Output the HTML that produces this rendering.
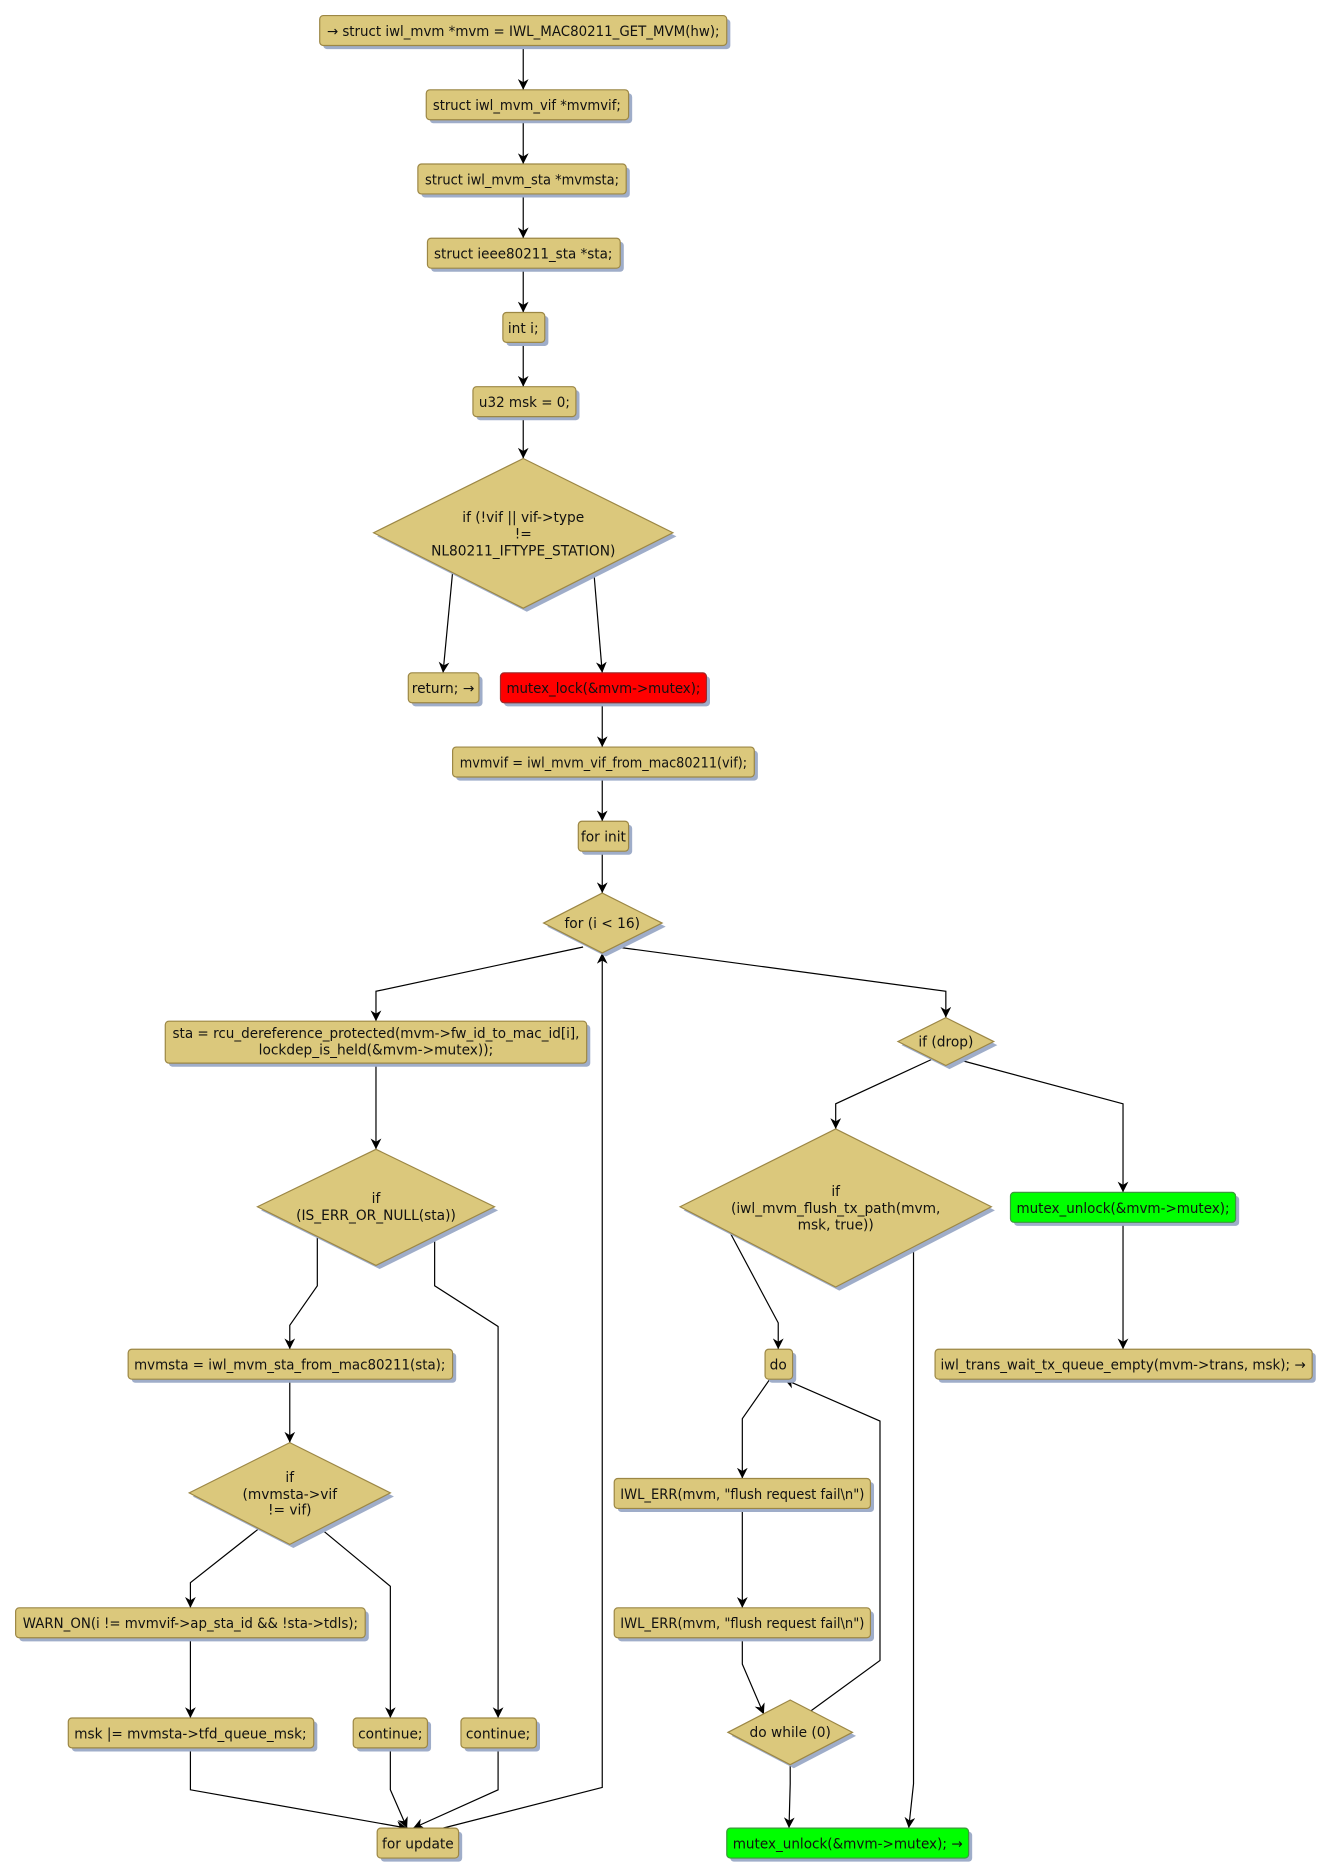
<!DOCTYPE html>
<html><head><meta charset="utf-8"><style>
html,body{margin:0;padding:0;background:#fff;}
svg{display:block;}
text{font-family:"DejaVu Sans","Liberation Sans",sans-serif;font-size:11.5px;fill:#111;}
.b{fill:#dbc87c;stroke:#9c8745;stroke-width:1;}
.s{fill:#9fadc9;}
.e{fill:none;stroke:#000;stroke-width:1;}
</style></head><body>
<svg width="1329" height="1876" viewBox="0 0 1110 1567" xmlns="http://www.w3.org/2000/svg">
<defs><marker id="a" viewBox="0 0 10 10" refX="10" refY="5" markerWidth="9" markerHeight="9" orient="auto" markerUnits="userSpaceOnUse"><path d="M0,0 L10,5 L0,10 L3,5 z" fill="#000"/></marker></defs>

<!-- edges -->
<g class="e" marker-end="url(#a)">
<path class="e" d="M437,38 V75"/>
<path class="e" d="M437,100 V137"/>
<path class="e" d="M437,162 V199"/>
<path class="e" d="M437,224 V261"/>
<path class="e" d="M437,286 V323"/>
<path class="e" d="M437,348 V383"/>
<path class="e" d="M378,478 L370,562"/>
<path class="e" d="M496,478 L503,562"/>
<path class="e" d="M503,587 V624"/>
<path class="e" d="M503,649 V686"/>
<path class="e" d="M503,711 V746"/>
<path class="e" d="M487,791 L314,828 V853"/>
<path class="e" d="M515,791 L790,828 V850"/>
<path class="e" d="M314,888 V960"/>
<path class="e" d="M265,1032 V1074 L242,1107 V1127"/>
<path class="e" d="M363,1032 V1074 L416,1108 V1435"/>
<path class="e" d="M242,1152 V1205"/>
<path class="e" d="M216,1277 L159,1322 V1343"/>
<path class="e" d="M268,1277 L326,1325 V1435"/>
<path class="e" d="M159,1368 V1435"/>
<path class="e" d="M159,1460 V1495 L340,1527"/>
<path class="e" d="M326,1460 V1495 L340,1527"/>
<path class="e" d="M416,1460 V1495 L345,1527"/>
<path class="e" d="M370,1527 L503,1493 V796"/>
<path class="e" d="M778,885 L698,922 V943"/>
<path class="e" d="M800,885 L938,922 V996"/>
<path class="e" d="M610,1030 L650,1105 V1127"/>
<path class="e" d="M763,1040 V1490 L759,1527"/>
<path class="e" d="M938,1021 V1127"/>
<path class="e" d="M643,1152 L620,1185 V1235"/>
<path class="e" d="M620,1260 V1343"/>
<path class="e" d="M620,1368 V1390 L638,1432"/>
<path class="e" d="M676,1430 L735,1387 V1187 L655,1152"/>
<path class="e" d="M660,1474 V1490 L659,1527"/>
</g>

<!-- shadows -->
<g class="s">
<rect x="270" y="16" width="340" height="25" rx="3"/>
<rect x="359" y="78" width="169" height="25" rx="3"/>
<rect x="352" y="140" width="174" height="25" rx="3"/>
<rect x="360" y="202" width="161" height="25" rx="3"/>
<rect x="423" y="264" width="35" height="25" rx="3"/>
<rect x="398" y="326" width="86" height="25" rx="3"/>
<polygon points="315,448 440,386 565,448 440,511"/>
<rect x="344" y="565" width="59" height="25" rx="3"/>
<rect x="421" y="565" width="172" height="25" rx="3"/>
<rect x="381" y="627" width="252" height="25" rx="3"/>
<rect x="486" y="689" width="42" height="25" rx="3"/>
<polygon points="457,774 506,749 556,774 506,799"/>
<rect x="141" y="856" width="352" height="35" rx="3"/>
<polygon points="218,1011 317,963 416,1011 317,1060"/>
<rect x="110" y="1130" width="271" height="25" rx="3"/>
<polygon points="161,1250 245,1208 329,1250 245,1293"/>
<rect x="16" y="1346" width="292" height="25" rx="3"/>
<rect x="60" y="1438" width="205" height="25" rx="3"/>
<rect x="298" y="1438" width="62" height="25" rx="3"/>
<rect x="388" y="1438" width="63" height="25" rx="3"/>
<rect x="318" y="1530" width="68" height="25" rx="3"/>
<polygon points="753,873 793,853 833,873 793,893"/>
<polygon points="571,1011 701,946 831,1011 701,1078"/>
<rect x="847" y="999" width="188" height="25" rx="3"/>
<rect x="642" y="1130" width="23" height="25" rx="3"/>
<rect x="784" y="1130" width="315" height="25" rx="3"/>
<rect x="516" y="1238" width="214" height="25" rx="3"/>
<rect x="516" y="1346" width="214" height="25" rx="3"/>
<polygon points="611,1450 663,1423 715,1450 663,1477"/>
<rect x="610" y="1530" width="202" height="25" rx="3"/>
</g>

<!-- nodes -->
<rect class="b" x="267" y="13" width="340" height="25" rx="3"/>
<rect class="b" x="356" y="75" width="169" height="25" rx="3"/>
<rect class="b" x="349" y="137" width="174" height="25" rx="3"/>
<rect class="b" x="357" y="199" width="161" height="25" rx="3"/>
<rect class="b" x="420" y="261" width="35" height="25" rx="3"/>
<rect class="b" x="395" y="323" width="86" height="25" rx="3"/>
<polygon class="b" points="312,445 437,383 562,445 437,508"/>
<rect class="b" x="341" y="562" width="59" height="25" rx="3"/>
<rect x="418" y="562" width="172" height="25" rx="3" fill="#ff0000" stroke="#9c2a2a"/>
<rect class="b" x="378" y="624" width="252" height="25" rx="3"/>
<rect class="b" x="483" y="686" width="42" height="25" rx="3"/>
<polygon class="b" points="454,771 503,746 553,771 503,796"/>
<rect class="b" x="138" y="853" width="352" height="35" rx="3"/>
<polygon class="b" points="215,1008 314,960 413,1008 314,1057"/>
<rect class="b" x="107" y="1127" width="271" height="25" rx="3"/>
<polygon class="b" points="158,1247 242,1205 326,1247 242,1290"/>
<rect class="b" x="13" y="1343" width="292" height="25" rx="3"/>
<rect class="b" x="57" y="1435" width="205" height="25" rx="3"/>
<rect class="b" x="295" y="1435" width="62" height="25" rx="3"/>
<rect class="b" x="385" y="1435" width="63" height="25" rx="3"/>
<rect class="b" x="315" y="1527" width="68" height="25" rx="3"/>
<polygon class="b" points="750,870 790,850 830,870 790,890"/>
<polygon class="b" points="568,1008 698,943 828,1008 698,1075"/>
<rect x="844" y="996" width="188" height="25" rx="3" fill="#00ff00" stroke="#3a9a3a"/>
<rect class="b" x="639" y="1127" width="23" height="25" rx="3"/>
<rect class="b" x="781" y="1127" width="315" height="25" rx="3"/>
<rect class="b" x="513" y="1235" width="214" height="25" rx="3"/>
<rect class="b" x="513" y="1343" width="214" height="25" rx="3"/>
<polygon class="b" points="608,1447 660,1420 712,1447 660,1474"/>
<rect x="607" y="1527" width="202" height="25" rx="3" fill="#00ff00" stroke="#3a9a3a"/>

<!-- labels -->
<g text-anchor="middle">
<text x="437" y="30" textLength="328" lengthAdjust="spacingAndGlyphs">→ struct iwl_mvm *mvm = IWL_MAC80211_GET_MVM(hw);</text>
<text x="440" y="92" textLength="157" lengthAdjust="spacingAndGlyphs">struct iwl_mvm_vif *mvmvif;</text>
<text x="436" y="154" textLength="162" lengthAdjust="spacingAndGlyphs">struct iwl_mvm_sta *mvmsta;</text>
<text x="437" y="216" textLength="149" lengthAdjust="spacingAndGlyphs">struct ieee80211_sta *sta;</text>
<text x="437" y="278">int i;</text>
<text x="438" y="340" textLength="76" lengthAdjust="spacingAndGlyphs">u32 msk = 0;</text>
<text x="437" y="436">if (!vif || vif-&gt;type</text>
<text x="437" y="450">!=</text>
<text x="437" y="464">NL80211_IFTYPE_STATION)</text>
<text x="370" y="579">return; →</text>
<text x="504" y="579" textLength="162" lengthAdjust="spacingAndGlyphs">mutex_lock(&amp;mvm-&gt;mutex);</text>
<text x="504" y="641" textLength="240" lengthAdjust="spacingAndGlyphs">mvmvif = iwl_mvm_vif_from_mac80211(vif);</text>
<text x="504" y="703">for init</text>
<text x="503" y="775">for (i &lt; 16)</text>
<text x="314" y="867" textLength="340" lengthAdjust="spacingAndGlyphs">sta = rcu_dereference_protected(mvm-&gt;fw_id_to_mac_id[i],</text>
<text x="314" y="881" textLength="196" lengthAdjust="spacingAndGlyphs">lockdep_is_held(&amp;mvm-&gt;mutex));</text>
<text x="314" y="1005">if</text>
<text x="314" y="1019">(IS_ERR_OR_NULL(sta))</text>
<text x="242" y="1144" textLength="260" lengthAdjust="spacingAndGlyphs">mvmsta = iwl_mvm_sta_from_mac80211(sta);</text>
<text x="242" y="1238">if</text>
<text x="242" y="1252">(mvmsta-&gt;vif</text>
<text x="242" y="1265">!= vif)</text>
<text x="159" y="1360" textLength="280" lengthAdjust="spacingAndGlyphs">WARN_ON(i != mvmvif-&gt;ap_sta_id &amp;&amp; !sta-&gt;tdls);</text>
<text x="159" y="1452" textLength="194" lengthAdjust="spacingAndGlyphs">msk |= mvmsta-&gt;tfd_queue_msk;</text>
<text x="326" y="1452">continue;</text>
<text x="416" y="1452">continue;</text>
<text x="349" y="1544">for update</text>
<text x="790" y="874">if (drop)</text>
<text x="698" y="999">if</text>
<text x="698" y="1013">(iwl_mvm_flush_tx_path(mvm,</text>
<text x="698" y="1027">msk, true))</text>
<text x="938" y="1013" textLength="178" lengthAdjust="spacingAndGlyphs">mutex_unlock(&amp;mvm-&gt;mutex);</text>
<text x="650" y="1144">do</text>
<text x="938" y="1144" textLength="305" lengthAdjust="spacingAndGlyphs">iwl_trans_wait_tx_queue_empty(mvm-&gt;trans, msk); →</text>
<text x="620" y="1252" textLength="204" lengthAdjust="spacingAndGlyphs">IWL_ERR(mvm, "flush request fail\n")</text>
<text x="620" y="1360" textLength="204" lengthAdjust="spacingAndGlyphs">IWL_ERR(mvm, "flush request fail\n")</text>
<text x="660" y="1451">do while (0)</text>
<text x="708" y="1544" textLength="192" lengthAdjust="spacingAndGlyphs">mutex_unlock(&amp;mvm-&gt;mutex); →</text>
</g>
</svg>
</body></html>
